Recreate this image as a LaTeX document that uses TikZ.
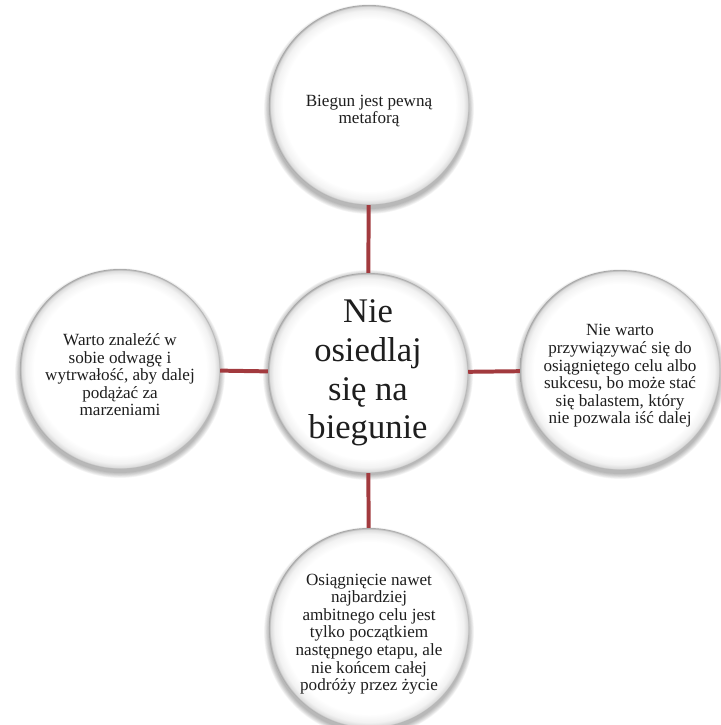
\documentclass[tikz,border=0pt]{standalone}
\usepackage{fontspec}
\setmainfont{Liberation Serif}
\definecolor{linkred}{HTML}{A23A3E}
\definecolor{textgray}{HTML}{1E1E1E}
% taller first line pushes the text block slightly downwards
\newcommand{\toppad}{\rule{0pt}{20pt}}
% button-like disc: white face, grey rim
\pgfdeclareradialshading{bubble}{\pgfpoint{0bp}{0bp}}{%
  color(0bp)=(white); color(21.5bp)=(white); color(23.6bp)=(black!5);
  color(24.6bp)=(black!14); color(25bp)=(black!35); color(50bp)=(black!35)}
\begin{document}
\begin{tikzpicture}[x=0.03cm,y=-0.03cm,
  bub/.style={circle, minimum size=6cm, inner sep=0pt, align=center,
    shading=bubble, text=textgray},
  small/.style={font=\fontsize{14.6}{15}\selectfont},
  big/.style={font=\fontsize{29.5}{33}\selectfont},
  link/.style={draw=linkred, line width=3.4pt}]
\useasboundingbox (0,0) rectangle (720,725);
% soft drop shadows under the discs
\foreach \cx/\cy in {369/105, 368/371, 120/369, 620/370, 369/628}{
  \foreach \k in {0,...,7}{
    \fill[black, fill opacity=0.04] (\cx,\cy+4) circle[radius=100+0.7*\k];
  }
}
\node[bub, small] (top) at (369,105) {\toppad Biegun jest pewną\\metaforą};
\node[bub, big] (mid) at (368,373) {\toppad Nie\\osiedlaj\\się na\\biegunie};
\node[bub, small] (left) at (120,369) {\toppad Warto znaleźć w\\sobie odwagę i\\wytrwałość, aby dalej\\podążać za\\marzeniami};
\node[bub, small] (right) at (620,370) {\toppad Nie warto\\przywiązywać się do\\osiągniętego celu albo\\sukcesu, bo może stać\\się balastem, który\\nie pozwala iść dalej};
\node[bub, small] (bottom) at (369,628) {\toppad Osiągnięcie nawet\\najbardziej\\ambitnego celu jest\\tylko początkiem\\następnego etapu, ale\\nie końcem całej\\podróży przez życie};
\draw[link] (top) -- (mid);
\draw[link] (left) -- (mid);
\draw[link] (mid) -- (right);
\draw[link] (mid) -- (bottom);
\end{tikzpicture}
\end{document}
